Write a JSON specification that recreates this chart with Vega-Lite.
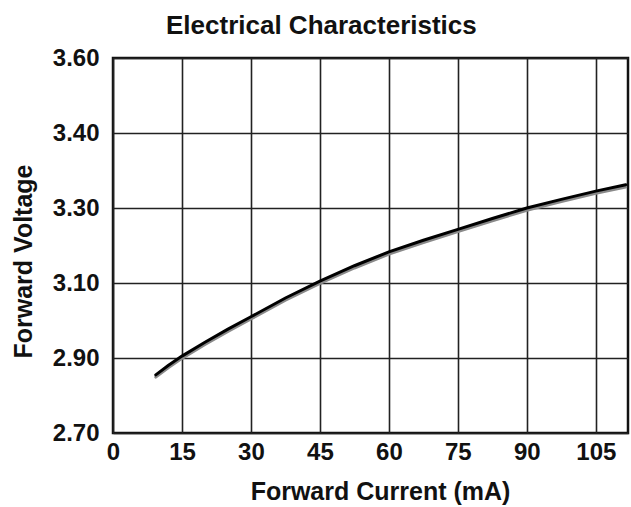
{
  "$schema": "https://vega.github.io/schema/vega-lite/v6.json",
  "width": 515,
  "height": 375,
  "autosize": {"type": "none"},
  "padding": {"left": 113, "top": 58, "right": 3, "bottom": 74},
  "background": "white",
  "title": {
    "text": "Electrical Characteristics",
    "font": "Liberation Sans",
    "fontSize": 26,
    "fontWeight": "bold",
    "color": "#111",
    "anchor": "start",
    "frame": "group",
    "offset": 7,
    "dx": 53
  },
  "config": {
    "view": {"stroke": "#111", "strokeWidth": 2.5},
    "axis": {
      "labelFont": "Liberation Sans",
      "labelFontWeight": "bold",
      "labelFontSize": 24,
      "labelColor": "#111",
      "titleFont": "Liberation Sans",
      "titleFontWeight": "bold",
      "titleFontSize": 25,
      "titleColor": "#111",
      "grid": true,
      "gridColor": "#222",
      "gridWidth": 1.6,
      "gridOpacity": 1,
      "ticks": false,
      "tickSize": 0,
      "domain": false
    }
  },
  "data": {
    "values": [
      {"I": 9.3, "V": 2.855, "Vb": 2.849},
      {"I": 12, "V": 2.88, "Vb": 2.874},
      {"I": 15, "V": 2.905, "Vb": 2.899},
      {"I": 20, "V": 2.942, "Vb": 2.936},
      {"I": 25, "V": 2.977, "Vb": 2.971},
      {"I": 30, "V": 3.01, "Vb": 3.004},
      {"I": 37.5, "V": 3.06, "Vb": 3.054},
      {"I": 45, "V": 3.105, "Vb": 3.099},
      {"I": 52.5, "V": 3.146, "Vb": 3.14},
      {"I": 60, "V": 3.183, "Vb": 3.177},
      {"I": 67.5, "V": 3.214, "Vb": 3.208},
      {"I": 75, "V": 3.243, "Vb": 3.237},
      {"I": 82.5, "V": 3.272, "Vb": 3.266},
      {"I": 90, "V": 3.3, "Vb": 3.294},
      {"I": 97.5, "V": 3.323, "Vb": 3.317},
      {"I": 105, "V": 3.345, "Vb": 3.339},
      {"I": 111.5, "V": 3.362, "Vb": 3.356}
    ]
  },
  "encoding": {
    "x": {
      "field": "I",
      "type": "quantitative",
      "scale": {"domain": [0, 112], "nice": false, "zero": false},
      "axis": {
        "values": [0, 15, 30, 45, 60, 75, 90, 105],
        "labelPadding": 7,
        "labelFlush": false,
        "title": "Forward Current (mA)",
        "titleBaseline": "alphabetic",
        "titleY": 66,
        "titleX": 267,
        "titleAlign": "center"
      }
    }
  },
  "layer": [
    {
      "mark": {"type": "line", "color": "#8a8a8a", "strokeWidth": 3, "strokeCap": "round"},
      "encoding": {
        "y": {
          "field": "Vb",
          "type": "quantitative",
          "scale": {"domain": [2.7, 3.7], "nice": false, "zero": false},
          "axis": {
            "values": [2.7, 2.9, 3.1, 3.3, 3.5, 3.7],
            "labelExpr": "datum.value == 3.5 ? '3.40' : datum.value == 3.7 ? '3.60' : format(datum.value, '.2f')",
            "labelPadding": 14,
            "labelFlush": false,
            "title": "Forward Voltage",
            "titleBaseline": "alphabetic",
            "titleX": -82,
            "titleY": 203,
            "titleAlign": "center",
            "titleAngle": -90
          }
        }
      }
    },
    {
      "mark": {"type": "line", "color": "#000", "strokeWidth": 3, "strokeCap": "round"},
      "encoding": {
        "y": {"field": "V", "type": "quantitative"}
      }
    }
  ]
}
